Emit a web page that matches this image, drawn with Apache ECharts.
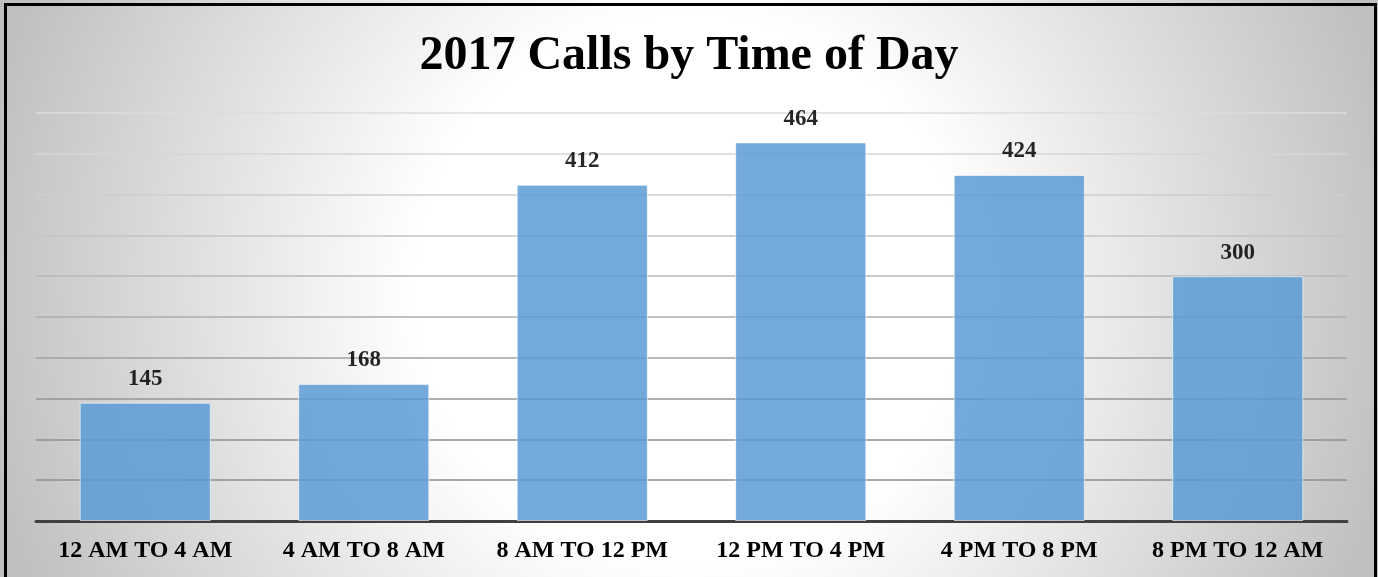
<!DOCTYPE html>
<html>
<head>
<meta charset="utf-8">
<title>2017 Calls by Time of Day</title>
<script src="https://cdn.jsdelivr.net/npm/echarts@6/dist/echarts.min.js"></script>
<style>
html, body { margin: 0; padding: 0; background: #fff; }
#chart { width: 1378px; height: 577px; }
</style>
</head>
<body>
<div id="chart"></div>
<script>
const categories = ['12 AM TO 4 AM', '4 AM TO 8 AM', '8 AM TO 12 PM', '12 PM TO 4 PM', '4 PM TO 8 PM', '8 PM TO 12 AM']
const calls = [145, 168, 412, 464, 424, 300]
// gridline shades, from the 0 line upwards
const gridShades = ['#404040', '#8c8c8c', '#8e8e8e', '#959595', '#a0a0a0', '#acacac', '#b8b8b8', '#c4c4c4', '#cecece', '#d6d6d6', '#dcdcdc']

const chart = echarts.init(document.getElementById('chart'))
chart.setOption({
  backgroundColor: {
    type: 'radial', x: 0.5, y: 0.5, r: 1.25,
    colorStops: [
      { offset: 0, color: '#ffffff' },
      { offset: 0.38, color: '#ffffff' },
      { offset: 1, color: '#c0c0c0' }
    ]
  },
  animation: false,
  title: {
    text: '2017 Calls by Time of Day',
    left: 'center',
    top: 28,
    textStyle: {
      fontFamily: 'Liberation Serif',
      fontWeight: 'bold',
      fontSize: 48,
      color: '#000'
    }
  },
  graphic: [{
    type: 'rect',
    silent: true,
    shape: { x: 5.5, y: 4.5, width: 1370, height: 590 },
    style: { fill: 'none', stroke: '#000', lineWidth: 3 }
  }],
  grid: { left: 36, right: 31, top: 113, bottom: 56 },
  xAxis: {
    type: 'category',
    data: categories,
    axisTick: { show: false },
    axisLine: { lineStyle: { color: '#404040', width: 3 } },
    axisLabel: {
      interval: 0,
      margin: 18,
      fontFamily: 'Liberation Serif',
      fontWeight: 'bold',
      fontSize: 24,
      color: '#000'
    }
  },
  yAxis: {
    type: 'value',
    min: 0,
    max: 500,
    interval: 50,
    axisLabel: { show: false },
    axisLine: { show: false },
    axisTick: { show: false },
    splitLine: { lineStyle: { color: gridShades, width: 1.5 } }
  },
  series: [{
    type: 'bar',
    data: calls,
    barWidth: '60%',
    z: 3,
    itemStyle: {
      color: '#5b9bd5',
      opacity: 0.85,
      borderColor: 'rgba(255,255,255,0.7)',
      borderWidth: 1
    },
    label: {
      show: true,
      position: 'top',
      distance: 12,
      fontFamily: 'Liberation Serif',
      fontWeight: 'bold',
      fontSize: 23,
      color: '#000'
    }
  }]
})
</script>
</body>
</html>
